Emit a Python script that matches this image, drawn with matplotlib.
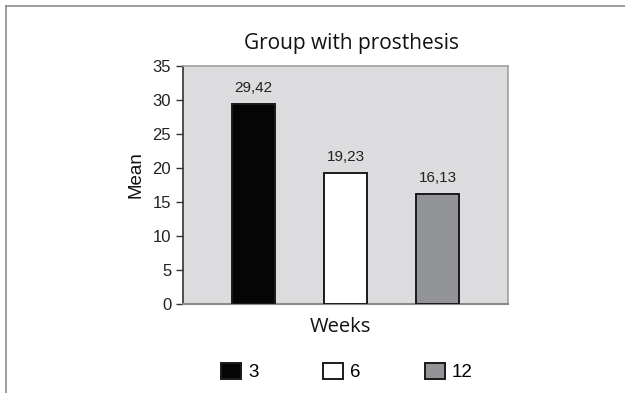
import matplotlib.pyplot as plt
from matplotlib.lines import Line2D

# Data
weeks = ['3', '6', '12']
means = [29.42, 19.23, 16.13]
bar_colors = ['#050505', '#ffffff', '#929497']
value_labels = ['29,42', '19,23', '16,13']
y_ticks = [0, 5, 10, 15, 20, 25, 30, 35]

fig = plt.figure(figsize=(6.25, 3.93), dpi=100)
ax = fig.add_axes([183 / 625, 1 - 304 / 393, 325 / 625, 238 / 393])
ax.set_facecolor('#dcdcde')

label_font = 'Open Sans'
tick_font = 'Liberation Sans'

for i, (w, m, c, lab) in enumerate(zip(weeks, means, bar_colors, value_labels)):
    ax.bar(i, m, width=0.466, color=c, edgecolor='#1a1a1a', linewidth=1.4, label=w, zorder=3)
    ax.text(i, m + 1.3, lab, ha='center', va='bottom', fontsize=11,
            family=tick_font, color='#222222')

ax.set_xlim(-0.764, 2.759)
ax.set_ylim(0, 35)
ax.set_yticks(y_ticks)
ax.set_yticklabels([str(t) for t in y_ticks], family=tick_font, fontsize=12, color='#222222')
ax.set_xticks([])
ax.tick_params(axis='y', direction='out', length=5, width=1, color='#333333', pad=3.5)

for side in ['top', 'right']:
    ax.spines[side].set_color('#a0a0a0')
    ax.spines[side].set_linewidth(1.2)
ax.spines['left'].set_color('#333333')
ax.spines['left'].set_linewidth(1.2)
ax.spines['bottom'].set_color('#8a8a8a')
ax.spines['bottom'].set_linewidth(1.5)

ax.set_title('Group with prosthesis', family=label_font, fontsize=15, pad=12,
             color='#111111', x=0.517)
ax.set_xlabel('Weeks', family=label_font, fontsize=14.5, labelpad=9, color='#111111')
ax.xaxis.label.set_x(0.483)
ax.set_ylabel('Mean', family=tick_font, fontsize=13.5, labelpad=6, color='#111111')
ax.yaxis.label.set_y(0.542)

handles, labels = ax.get_legend_handles_labels()
leg = fig.legend(handles, labels, loc='center', bbox_to_anchor=(347 / 625, 1 - 372 / 393), ncol=3,
                 frameon=False, handlelength=1.07, handleheight=1.0, handletextpad=0.4,
                 columnspacing=3.4, prop={'family': tick_font, 'size': 13.5})

# outer frame (cropped figure border)
fig.add_artist(Line2D([6 / 625, 1.0], [1 - 6 / 393, 1 - 6 / 393], transform=fig.transFigure,
                      color='#8c8c8c', linewidth=1.2))
fig.add_artist(Line2D([6 / 625, 6 / 625], [0, 1 - 6 / 393], transform=fig.transFigure,
                      color='#8c8c8c', linewidth=1.2))

fig.savefig('out.png', dpi=100)
